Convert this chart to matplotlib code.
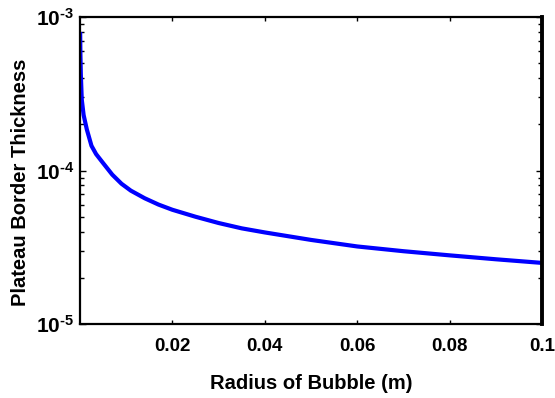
import matplotlib
matplotlib.use("Agg")
import matplotlib.pyplot as plt
from matplotlib.ticker import LogLocator, FixedLocator, NullFormatter

radius = [0.00005, 0.0001, 0.0002, 0.0004, 0.0008, 0.0015, 0.0025, 0.0035, 0.005,
          0.007, 0.009, 0.011, 0.014, 0.017, 0.02, 0.025, 0.03, 0.035, 0.04,
          0.05, 0.06, 0.07, 0.08, 0.09, 0.1]
thickness = [8.0e-4, 5.8e-4, 4.2e-4, 2.9e-4, 2.3e-4, 1.85e-4, 1.45e-4, 1.28e-4, 1.12e-4,
             9.4e-5, 8.2e-5, 7.4e-5, 6.6e-5, 6.0e-5, 5.55e-5, 5.0e-5, 4.55e-5, 4.2e-5, 3.95e-5,
             3.53e-5, 3.2e-5, 2.98e-5, 2.8e-5, 2.64e-5, 2.5e-5]
xticks = [0.02, 0.04, 0.06, 0.08, 0.1]
xticklabels = ["0.02", "0.04", "0.06", "0.08", "0.1"]
yticks = [1e-5, 1e-4, 1e-3]
yticklabels = [r'$\mathbf{10^{\text{-}5}}$', r'$\mathbf{10^{\text{-}4}}$', r'$\mathbf{10^{\text{-}3}}$']

plt.rcParams['font.family'] = ['Liberation Sans', 'DejaVu Sans']
plt.rcParams['font.weight'] = 'bold'
plt.rcParams['mathtext.fontset'] = 'custom'
plt.rcParams['mathtext.rm'] = 'Liberation Sans'
plt.rcParams['mathtext.bf'] = 'Liberation Sans:bold'

fig = plt.figure(figsize=(5.55, 3.98), dpi=100)
ax = fig.add_axes([0.144, 0.186, 0.833, 0.771])
ax.plot(radius, thickness, color=(0, 0, 1), lw=3.0, solid_capstyle='butt')
ax.set_yscale('log')
ax.set_xlim(0, 0.1)
ax.set_ylim(1e-5, 1e-3)
ax.set_xticks(xticks)
ax.set_xticklabels(xticklabels, fontsize=13.5, fontweight='bold')
ax.yaxis.set_major_locator(FixedLocator(yticks))
ax.set_yticklabels(yticklabels, fontsize=15)
ax.yaxis.set_minor_locator(LogLocator(base=10, subs=range(2, 10)))
ax.yaxis.set_minor_formatter(NullFormatter())
ax.tick_params(axis='x', which='major', direction='in', length=3, width=1, top=True, pad=10)
ax.tick_params(axis='y', which='major', direction='in', length=4, width=1, right=True, pad=4)
ax.tick_params(axis='y', which='minor', direction='in', length=3, width=1, right=True)
for s in ['left', 'bottom', 'top']:
    ax.spines[s].set_linewidth(1.6)
ax.spines['right'].set_linewidth(2.8)
ax.set_xlabel('Radius of Bubble (m)', fontsize=14.5, fontweight='bold', labelpad=14)
ax.set_ylabel('Plateau Border Thickness', fontsize=14.5, fontweight='bold')
ax.yaxis.set_label_coords(-0.108, 0.4625)
fig.savefig('out.png', dpi=100)
